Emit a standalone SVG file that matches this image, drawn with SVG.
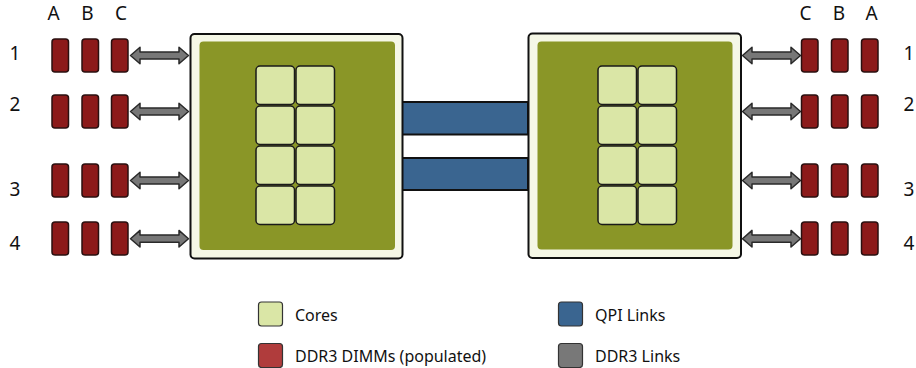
<svg xmlns="http://www.w3.org/2000/svg" width="916" height="368" viewBox="0 0 916 368">
<style>
.lbl{font-family:"Noto Sans","DejaVu Sans",sans-serif;font-size:19px;fill:#111;text-anchor:middle}
.leg{font-family:"Noto Sans","DejaVu Sans",sans-serif;font-size:16px;fill:#111}
.dimm{fill:#8c1a1a;stroke:#2a1010;stroke-width:1.5}
.arrow{fill:#777;stroke:#2a2a2a;stroke-width:1.5;stroke-linejoin:round}
.outer{fill:#f5f7e6;stroke:#111;stroke-width:2}
.inner{fill:#8a9627}
.core{fill:#dae6a6;stroke:#1a1a1a;stroke-width:1.5}
.qpi{fill:#3a6590;stroke:#111;stroke-width:2}
.sw{stroke:#333;stroke-width:1.2}
</style>
<defs>
<path id="arr" class="arrow" d="M0.5,0 L10,-8.3 L10,-3.6 L49,-3.6 L49,-8.3 L58.5,0 L49,8.3 L49,3.6 L10,3.6 L10,8.3 Z"/>
<rect id="dm" class="dimm" x="0" y="0" width="16.5" height="33" rx="3"/>
</defs>

<g id="column-labels">
<text class="lbl" x="53.5" y="19.5">A</text>
<text class="lbl" x="87.5" y="19.5">B</text>
<text class="lbl" x="121" y="19.5">C</text>
<text class="lbl" x="805.5" y="19.5">C</text>
<text class="lbl" x="839" y="19.5">B</text>
<text class="lbl" x="871.5" y="19.5">A</text>
</g>
<g id="row-labels">
<text class="lbl" x="15" y="59.5">1</text>
<text class="lbl" x="15" y="111">2</text>
<text class="lbl" x="15" y="196">3</text>
<text class="lbl" x="15" y="250">4</text>
<text class="lbl" x="909" y="59.5">1</text>
<text class="lbl" x="909" y="111">2</text>
<text class="lbl" x="909" y="196">3</text>
<text class="lbl" x="909" y="250">4</text>
</g>

<g id="connectors">
<rect class="qpi" x="402" y="102" width="126" height="32.5"/>
<rect class="qpi" x="402" y="158" width="126" height="32"/>
<use href="#arr" x="130" y="55.5"/>
<use href="#arr" x="130" y="111.5"/>
<use href="#arr" x="130" y="180.5"/>
<use href="#arr" x="130" y="238.7"/>
<use href="#arr" x="742" y="55.5"/>
<use href="#arr" x="742" y="111.5"/>
<use href="#arr" x="742" y="180.5"/>
<use href="#arr" x="742" y="238.7"/>
</g>

<g id="dimms-left">
<use href="#dm" x="52" y="39"/><use href="#dm" x="82" y="39"/><use href="#dm" x="111.5" y="39"/>
<use href="#dm" x="52" y="95"/><use href="#dm" x="82" y="95"/><use href="#dm" x="111.5" y="95"/>
<use href="#dm" x="52" y="164"/><use href="#dm" x="82" y="164"/><use href="#dm" x="111.5" y="164"/>
<use href="#dm" x="52" y="222"/><use href="#dm" x="82" y="222"/><use href="#dm" x="111.5" y="222"/>
</g>
<g id="dimms-right">
<use href="#dm" x="801.5" y="39"/><use href="#dm" x="831.5" y="39"/><use href="#dm" x="861.5" y="39"/>
<use href="#dm" x="801.5" y="95"/><use href="#dm" x="831.5" y="95"/><use href="#dm" x="861.5" y="95"/>
<use href="#dm" x="801.5" y="164"/><use href="#dm" x="831.5" y="164"/><use href="#dm" x="861.5" y="164"/>
<use href="#dm" x="801.5" y="222"/><use href="#dm" x="831.5" y="222"/><use href="#dm" x="861.5" y="222"/>
</g>

<g id="cpu-left">
<rect class="outer" x="190.5" y="34" width="212" height="224.5" rx="4"/>
<rect class="inner" x="199.5" y="41.5" width="195.5" height="208.5" rx="4"/>
<rect class="core" x="256" y="66" width="38.5" height="38.5" rx="4"/>
<rect class="core" x="296" y="66" width="38.5" height="38.5" rx="4"/>
<rect class="core" x="256" y="106" width="38.5" height="38.5" rx="4"/>
<rect class="core" x="296" y="106" width="38.5" height="38.5" rx="4"/>
<rect class="core" x="256" y="146" width="38.5" height="38.5" rx="4"/>
<rect class="core" x="296" y="146" width="38.5" height="38.5" rx="4"/>
<rect class="core" x="256" y="186" width="38.5" height="38.5" rx="4"/>
<rect class="core" x="296" y="186" width="38.5" height="38.5" rx="4"/>
</g>
<g id="cpu-right">
<rect class="outer" x="528.5" y="33.5" width="212.5" height="224.5" rx="4"/>
<rect class="inner" x="537.5" y="41.5" width="195" height="208" rx="4"/>
<rect class="core" x="598" y="66" width="38.5" height="38.5" rx="4"/>
<rect class="core" x="638" y="66" width="38.5" height="38.5" rx="4"/>
<rect class="core" x="598" y="106" width="38.5" height="38.5" rx="4"/>
<rect class="core" x="638" y="106" width="38.5" height="38.5" rx="4"/>
<rect class="core" x="598" y="146" width="38.5" height="38.5" rx="4"/>
<rect class="core" x="638" y="146" width="38.5" height="38.5" rx="4"/>
<rect class="core" x="598" y="186" width="38.5" height="38.5" rx="4"/>
<rect class="core" x="638" y="186" width="38.5" height="38.5" rx="4"/>
</g>

<g id="legend">
<rect class="sw" x="258.5" y="302" width="24" height="24" rx="3" fill="#dae6a6"/>
<text class="leg" x="295" y="320.5">Cores</text>
<rect class="sw" x="258.5" y="343.5" width="24" height="24" rx="3" fill="#b03c3c"/>
<text class="leg" x="295" y="361.5">DDR3 DIMMs (populated)</text>
<rect class="sw" x="558.5" y="302" width="24" height="24" rx="3" fill="#3a6590"/>
<text class="leg" x="595" y="320.5">QPI Links</text>
<rect class="sw" x="558.5" y="343.5" width="24" height="24" rx="3" fill="#787878"/>
<text class="leg" x="595" y="361.5">DDR3 Links</text>
</g>
</svg>
